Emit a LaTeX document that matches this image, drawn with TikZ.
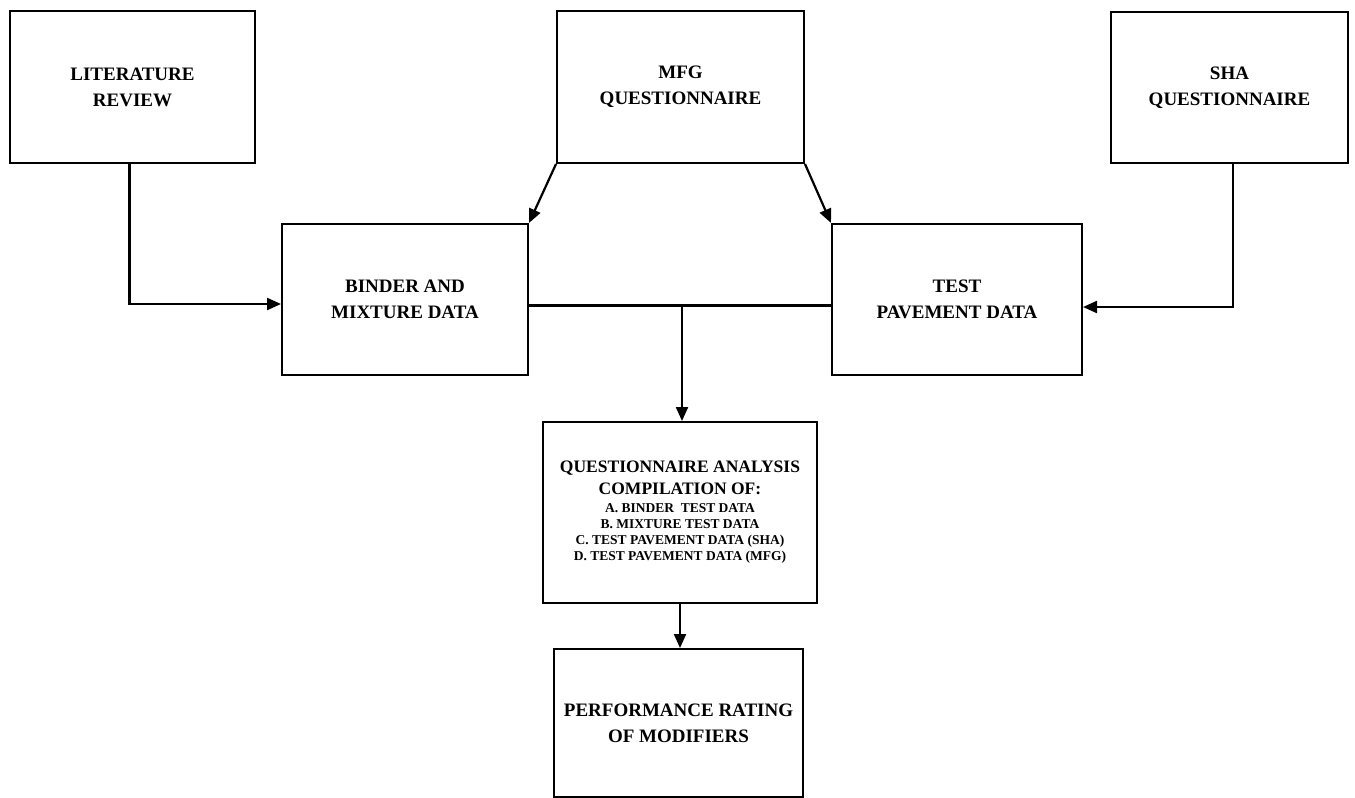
\documentclass[tikz,border=0pt]{standalone}
\usepackage{fontspec}
\setmainfont{Liberation Serif}
\usetikzlibrary{arrows.meta}
\begin{document}
\begin{tikzpicture}[x=1pt,y=-1pt,
  box/.style={draw, line width=2pt, rectangle, align=center, inner sep=0pt,
    font=\fontsize{19}{26}\selectfont\bfseries},
  conn/.style={line width=2.2pt},
  arr/.style={conn, -{Triangle[length=14pt,width=12pt]}}]
\useasboundingbox (0,0) rectangle (1355,798);
\node[box, minimum width=245, minimum height=152] (lit) at (132.5,87) {LITERATURE\\REVIEW};
\node[box, minimum width=247, minimum height=152] (mfg) at (680.5,87) {MFG\\QUESTIONNAIRE};
\node[box, minimum width=237, minimum height=151] (sha) at (1229.5,87.5) {SHA\\QUESTIONNAIRE};
\node[box, minimum width=246, minimum height=151] (bin) at (405,299.5) {BINDER AND\\MIXTURE DATA};
\node[box, minimum width=250, minimum height=151] (tst) at (957,299.5) {TEST\\PAVEMENT DATA};
\node[box, minimum width=274, minimum height=181, font=\fontsize{17.5}{22}\selectfont\bfseries] (qa) at (680,512.5)
  {QUESTIONNAIRE ANALYSIS\\COMPILATION OF:\\[-4pt]
   {\fontsize{13.5}{16}\selectfont\bfseries A. BINDER\ \ TEST DATA}\\[-6pt]
   {\fontsize{13.5}{16}\selectfont\bfseries B. MIXTURE TEST DATA}\\[-6pt]
   {\fontsize{13.5}{16}\selectfont\bfseries C. TEST PAVEMENT DATA (SHA)}\\[-6pt]
   {\fontsize{13.5}{16}\selectfont\bfseries D. TEST PAVEMENT DATA (MFG)}};
\node[box, minimum width=249, minimum height=148] (perf) at (678.5,723) {PERFORMANCE RATING\\OF MODIFIERS};
\coordinate (bw) at ([yshift=-4.5pt]bin.west);
\coordinate (be) at ([yshift=-6pt]bin.east);
\coordinate (tw) at ([yshift=-6pt]tst.west);
\coordinate (te) at ([yshift=-7.5pt]tst.east);
\coordinate (j) at (be -| qa.north);
\draw[arr] ([xshift=-3pt]lit.south) |- (bw);
\draw[arr] (mfg.south west) -- (bin.north east);
\draw[arr] (mfg.south east) -- (tst.north west);
\draw[arr] ([xshift=3.5pt]sha.south) |- (te);
\draw[conn] (be) -- (tw);
\draw[arr] ([xshift=2pt]j) -- ([xshift=2pt]qa.north);
\draw[arr] (qa.south) -- (qa.south |- perf.north);
\end{tikzpicture}
\end{document}
